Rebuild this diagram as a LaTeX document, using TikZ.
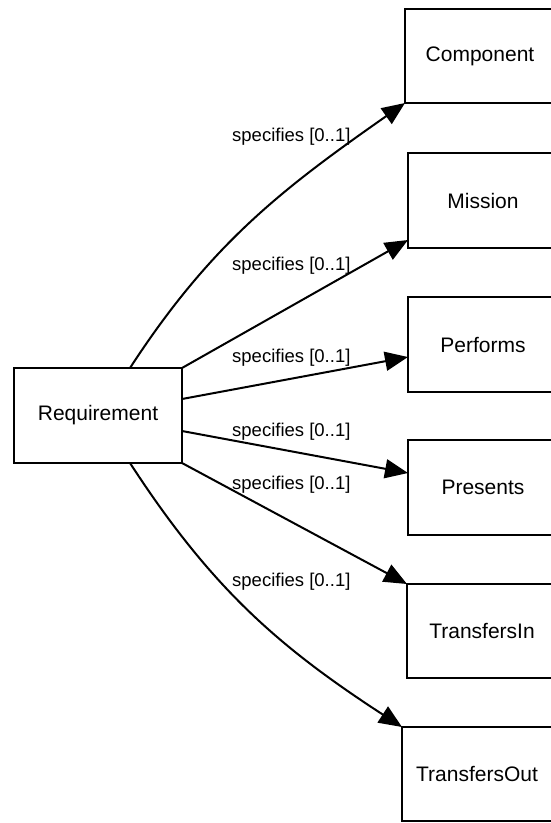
\documentclass[tikz,border=0pt]{standalone}
\usepackage{fontspec}
\setmainfont{Liberation Sans}
\usetikzlibrary{arrows.meta,calc}
\tikzset{
  box/.style={draw, line width=2pt, rectangle, outer sep=0pt, inner sep=0pt,
    minimum width=150pt, font=\fontsize{21}{25}\selectfont},
  conn/.style={line width=2pt, -{Triangle[length=23pt,width=19pt]}},
  lab/.style={anchor=west, inner sep=0pt, font=\fontsize{18.5}{22}\selectfont}
}
\begin{document}
\begin{tikzpicture}[x=1pt,y=-1pt]
\useasboundingbox (0,0) rectangle (551,823);
\clip (0,0) rectangle (551,823);
\node[box, minimum width=168pt, minimum height=95pt] (req) at (98,415.5) {Requirement};
\node[box, minimum height=94pt] (comp) at (480,56) {Component};
\node[box, minimum height=95pt] (mis) at (483,200.5) {Mission};
\node[box, minimum height=95pt] (perf) at (483,344.5) {Performs};
\node[box, minimum height=95pt] (pres) at (483,487.5) {Presents};
\node[box, minimum height=94pt] (tin) at (482,631) {TransfersIn};
\node[box, minimum height=94pt] (tout) at (477,774) {TransfersOut};

\draw[conn] ($(req.north)+(32,0)$) to[out=57,in=215] (comp.south west);
\draw[conn] (req.north east) -- ($(mis.south west)+(0,-8)$);
\draw[conn] ($(req.east)+(0,-16.5)$) -- ($(perf.west)+(0,12.5)$);
\draw[conn] ($(req.east)+(0,15.5)$) -- ($(pres.west)+(0,-14.5)$);
\draw[conn] (req.south east) -- (tin.north west);
\draw[conn] ($(req.south)+(32,0)$) to[out=-57,in=147] (tout.north west);

\node[lab] (l1) at (232,137) {specifies [0..1]};
\node[lab] (l2) at (232,266) {specifies [0..1]};
\node[lab] (l3) at (232,358) {specifies [0..1]};
\node[lab] (l4) at (232,432) {specifies [0..1]};
\node[lab] (l5) at (232,485) {specifies [0..1]};
\node[lab] (l6) at (232,582) {specifies [0..1]};
\end{tikzpicture}
\end{document}
